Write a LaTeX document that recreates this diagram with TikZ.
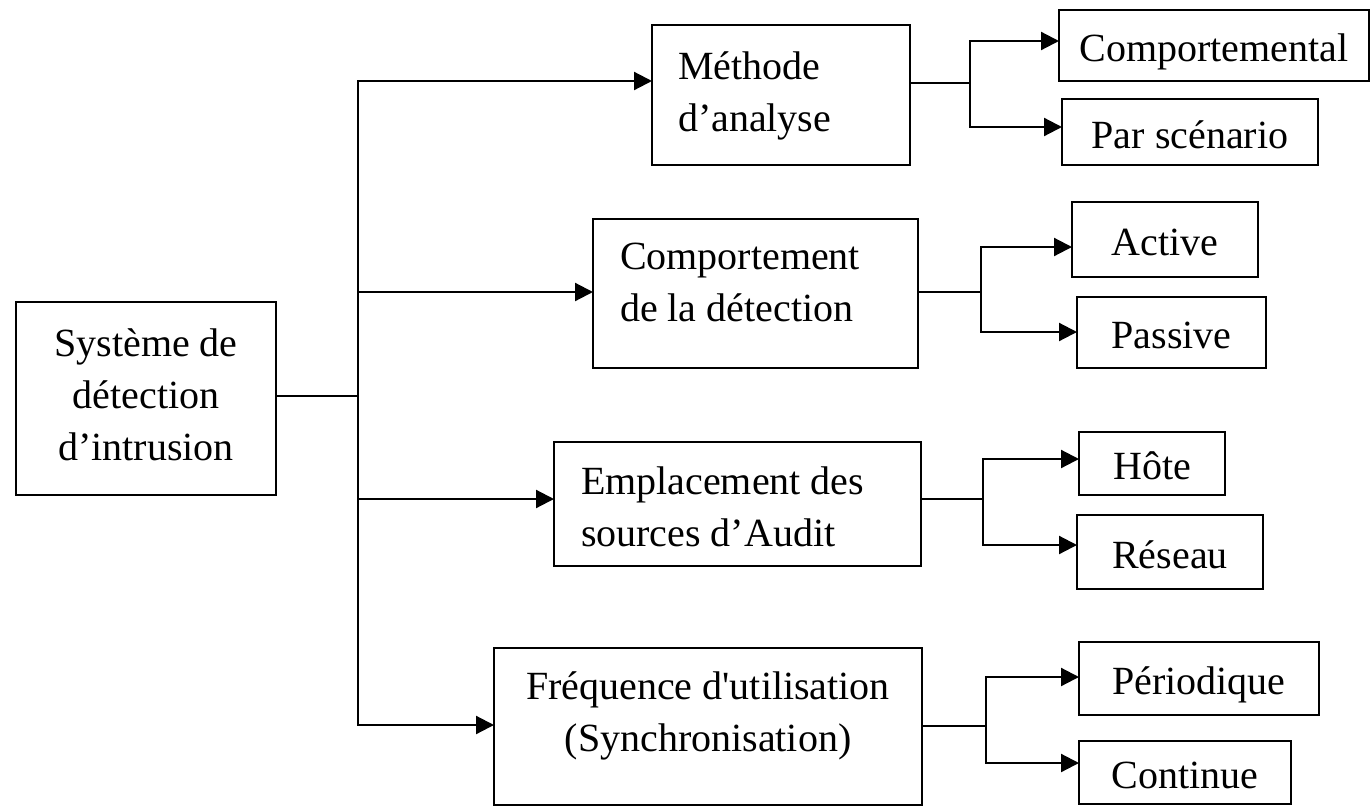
\documentclass[tikz,border=0pt]{standalone}
\usepackage{fontspec}
\setmainfont{Liberation Serif}
\usetikzlibrary{arrows.meta}
\begin{document}
\begin{tikzpicture}[x=0.5pt,y=-0.5pt,
  every node/.style={font=\fontsize{20pt}{26pt}\selectfont},
  bx/.style={draw, line width=1.1pt, inner sep=0pt, outer sep=0pt},
  leaf/.style={bx, text height=18pt, text depth=2pt},
  ln/.style={line width=1.1pt, line cap=rect},
  arr/.style={line width=1.1pt, -{Triangle[length=9pt,width=9pt]}}]
\useasboundingbox (0,0) rectangle (1372,809);

% root
\node[bx, minimum width=130pt, minimum height=96.5pt] (root) at (146,398.5)
  {\begin{tabular}{@{}c@{}}Système de\\détection\\d’intrusion\end{tabular}};

% middle boxes
\node[bx, inner xsep=13pt, minimum height=70pt] (m1) at (781,95)
  {\makebox[103pt][l]{\begin{tabular}{@{}l@{}}Méthode\\d’analyse\end{tabular}}};
\node[bx, inner xsep=13.5pt, minimum height=74.5pt] (m2) at (755.5,293.5)
  {\makebox[135.5pt][l]{\begin{tabular}{@{}l@{}}Comportement\\de la détection\rule[-16.5pt]{0pt}{0pt}\end{tabular}}};
\node[bx, inner xsep=13.5pt, minimum height=62pt] (m3) at (737.5,504)
  {\makebox[156.5pt][l]{\begin{tabular}{@{}l@{}}\rule{0pt}{24.5pt}Emplacement des\\sources d’Audit\end{tabular}}};
\node[bx, minimum width=214pt, minimum height=78.5pt] (m4) at (708,726.5)
  {\begin{tabular}{@{}c@{}}Fréquence d\textquotesingle utilisation\\(Synchronisation)\rule[-19.5pt]{0pt}{0pt}\end{tabular}};

% leaves
\node[leaf, minimum width=155pt, minimum height=35.5pt] (l11) at (1214,45.5) {Comportemental};
\node[leaf, minimum width=128pt, minimum height=33pt] (l12) at (1190,132) {Par scénario};
\node[leaf, minimum width=93pt, minimum height=37.5pt] (l21) at (1165,239.5) {Active};
\node[leaf, minimum width=94.5pt, minimum height=35.5pt] (l22) at (1171.5,332.5) {Passive};
\node[leaf, minimum width=73pt, minimum height=31.5pt] (l31) at (1152,463.5) {Hôte};
\node[leaf, minimum width=93pt, minimum height=37pt] (l32) at (1170,552) {Réseau};
\node[leaf, minimum width=120pt, minimum height=36.5pt] (l41) at (1199,678.5) {Périodique};
\node[leaf, minimum width=106pt, minimum height=31.5pt] (l42) at (1185,772.5) {Continue};

% trunk
\coordinate (j0) at (358,396);
\coordinate (b1) at (358,81);
\coordinate (b2) at (358,292);
\coordinate (b3) at (358,499);
\coordinate (b4) at (358,725);
\draw[ln] (j0 -| root.east) -- (j0);
\draw[ln] (b1) -- (b4);
\draw[arr] (b1) -- (b1 -| m1.west);
\draw[arr] (b2) -- (b2 -| m2.west);
\draw[arr] (b3) -- (b3 -| m3.west);
\draw[arr] (b4) -- (b4 -| m4.west);

% right splits
\coordinate (s1) at (970,83);  \coordinate (s1a) at (970,41);  \coordinate (s1b) at (970,127);
\coordinate (s2) at (981,292); \coordinate (s2a) at (981,247); \coordinate (s2b) at (981,332);
\coordinate (s3) at (983,499); \coordinate (s3a) at (983,459); \coordinate (s3b) at (983,545);
\coordinate (s4) at (986,726); \coordinate (s4a) at (986,677); \coordinate (s4b) at (986,763);

\draw[ln] (s1 -| m1.east) -- (s1);
\draw[ln] (s1a) -- (s1b);
\draw[arr] (s1a) -- (s1a -| l11.west);
\draw[arr] (s1b) -- (s1b -| l12.west);

\draw[ln] (s2 -| m2.east) -- (s2);
\draw[ln] (s2a) -- (s2b);
\draw[arr] (s2a) -- (s2a -| l21.west);
\draw[arr] (s2b) -- (s2b -| l22.west);

\draw[ln] (s3 -| m3.east) -- (s3);
\draw[ln] (s3a) -- (s3b);
\draw[arr] (s3a) -- (s3a -| l31.west);
\draw[arr] (s3b) -- (s3b -| l32.west);

\draw[ln] (s4 -| m4.east) -- (s4);
\draw[ln] (s4a) -- (s4b);
\draw[arr] (s4a) -- (s4a -| l41.west);
\draw[arr] (s4b) -- (s4b -| l42.west);
\end{tikzpicture}
\end{document}
